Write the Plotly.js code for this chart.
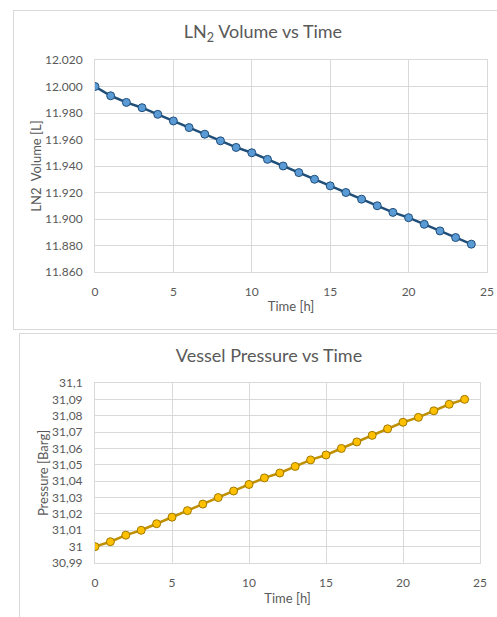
<!DOCTYPE html>
<html>
<head>
<meta charset="utf-8">
<script src="https://cdn.plot.ly/plotly-3.0.1.min.js"></script>
<style>
html,body{margin:0;padding:0;background:#fff;overflow:hidden;width:497px;height:617px;}
#c1{position:absolute;left:13px;top:10px;width:500px;height:320px;border:1px solid #D9D9D9;box-sizing:border-box;}
#c2{position:absolute;left:19px;top:333px;width:500px;height:300px;border:1px solid #D9D9D9;box-sizing:border-box;}
</style>
</head>
<body>
<div id="c1"></div>
<div id="c2"></div>
<script>
const hours = [0,1,2,3,4,5,6,7,8,9,10,11,12,13,14,15,16,17,18,19,20,21,22,23,24];
const volumeL = [12.000,11.993,11.988,11.984,11.979,11.974,11.969,11.964,11.959,11.954,11.950,11.945,11.940,11.935,11.930,11.925,11.920,11.915,11.910,11.905,11.901,11.896,11.891,11.886,11.881];
const pressureBarg = [31.000,31.003,31.007,31.010,31.014,31.018,31.022,31.026,31.030,31.034,31.038,31.042,31.045,31.049,31.053,31.056,31.060,31.064,31.068,31.072,31.076,31.079,31.083,31.087,31.090];
const pressureTickVals = [30.99,31.00,31.01,31.02,31.03,31.04,31.05,31.06,31.07,31.08,31.09,31.10];
const pressureTickText = ["30,99","31","31,01","31,02","31,03","31,04","31,05","31,06","31,07","31,08","31,09","31,1"];

const FONT = "Lato, 'Open Sans', sans-serif";
const GRAY = "#595959";
const GRID = "#D9D9D9";

function baseAxis(){
  return {showgrid:true, gridcolor:GRID, gridwidth:1, showline:true, linecolor:GRID, linewidth:1, mirror:true,
          zeroline:false, ticks:'', ticklabelstandoff:9, tickfont:{family:FONT,size:12,color:GRAY}};
}

const x1 = Object.assign(baseAxis(), {range:[0,25], dtick:5, tick0:0,
  title:{text:'Time [h]', font:{family:FONT,size:13,color:GRAY}, standoff:3}});
const y1 = Object.assign(baseAxis(), {range:[11.86,12.02], dtick:0.02, tick0:11.86, tickformat:'.3f',
  title:{text:'LN2  Volume [L]', font:{family:FONT,size:13,color:GRAY}, standoff:0}});

Plotly.newPlot('c1', [{
  x:hours, y:volumeL, type:'scatter', mode:'lines+markers',
  line:{color:'#1F4E79', width:2.5},
  marker:{size:8, color:'#5B9BD5', line:{color:'#1F4E79', width:1}}
}], {
  width:498, height:318,
  margin:{l:81, r:25, t:49, b:57},
  paper_bgcolor:'#fff', plot_bgcolor:'#fff',
  showlegend:false,
  title:{text:'LN<sub>2</sub> Volume vs Time', font:{family:FONT,size:18,color:GRAY}, x:0.5, xanchor:'center', xref:'container', y:0.935, yanchor:'middle'},
  xaxis:x1, yaxis:y1
}, {staticPlot:true, displayModeBar:false});

const x2 = Object.assign(baseAxis(), {range:[0,25], dtick:5, tick0:0,
  title:{text:'Time [h]', font:{family:FONT,size:13,color:GRAY}, standoff:4}});
const y2 = Object.assign(baseAxis(), {range:[30.99,31.10], tickmode:'array', tickvals:pressureTickVals, ticktext:pressureTickText,
  title:{text:'Pressure [Barg]', font:{family:FONT,size:13,color:GRAY}, standoff:0}});

Plotly.newPlot('c2', [{
  x:hours, y:pressureBarg, type:'scatter', mode:'lines+markers',
  line:{color:'#BF9000', width:2.5},
  marker:{size:8, color:'#FFC000', line:{color:'#A07800', width:1}}
}], {
  width:498, height:298,
  margin:{l:75, r:38, t:49, b:69},
  paper_bgcolor:'#fff', plot_bgcolor:'#fff',
  showlegend:false,
  title:{text:'Vessel Pressure vs Time', font:{family:FONT,size:18,color:GRAY}, x:0.5, xanchor:'center', xref:'container', y:0.927, yanchor:'middle'},
  xaxis:x2, yaxis:y2
}, {staticPlot:true, displayModeBar:false});
</script>
</body>
</html>
